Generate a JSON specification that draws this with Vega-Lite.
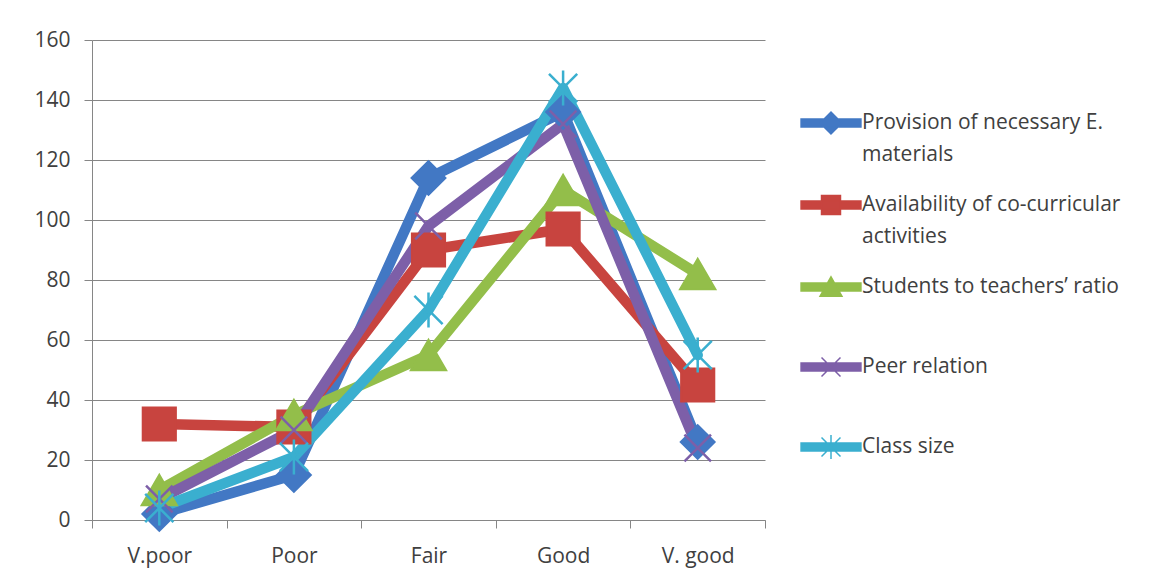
{
  "$schema": "https://vega.github.io/schema/vega-lite/v6.json",
  "width": 673,
  "height": 480,
  "autosize": {"type": "none"},
  "padding": {"left": 92, "top": 40, "right": 406, "bottom": 63},
  "background": "white",
  "config": {"font": "Open Sans", "view": {"stroke": null}},
  "data": {
    "values": [
      {"c": "V.poor", "s": "Provision of necessary E. materials", "v": 2},
      {"c": "Poor", "s": "Provision of necessary E. materials", "v": 15},
      {"c": "Fair", "s": "Provision of necessary E. materials", "v": 114},
      {"c": "Good", "s": "Provision of necessary E. materials", "v": 136},
      {"c": "V. good", "s": "Provision of necessary E. materials", "v": 26},
      {"c": "V.poor", "s": "Availability of  co-curricular activities", "v": 32},
      {"c": "Poor", "s": "Availability of  co-curricular activities", "v": 31},
      {"c": "Fair", "s": "Availability of  co-curricular activities", "v": 90},
      {"c": "Good", "s": "Availability of  co-curricular activities", "v": 97},
      {"c": "V. good", "s": "Availability of  co-curricular activities", "v": 45},
      {"c": "V.poor", "s": "Students to teachers’ ratio", "v": 10},
      {"c": "Poor", "s": "Students to teachers’ ratio", "v": 35},
      {"c": "Fair", "s": "Students to teachers’ ratio", "v": 55},
      {"c": "Good", "s": "Students to teachers’ ratio", "v": 110},
      {"c": "V. good", "s": "Students to teachers’ ratio", "v": 82},
      {"c": "V.poor", "s": "Peer relation", "v": 7},
      {"c": "Poor", "s": "Peer relation", "v": 30},
      {"c": "Fair", "s": "Peer relation", "v": 98},
      {"c": "Good", "s": "Peer relation", "v": 132},
      {"c": "V. good", "s": "Peer relation", "v": 24},
      {"c": "V.poor", "s": "Class size", "v": 4},
      {"c": "Poor", "s": "Class size", "v": 21},
      {"c": "Fair", "s": "Class size", "v": 70},
      {"c": "Good", "s": "Class size", "v": 144},
      {"c": "V. good", "s": "Class size", "v": 55}
    ]
  },
  "encoding": {
    "x": {
      "field": "c",
      "type": "nominal",
      "sort": ["V.poor", "Poor", "Fair", "Good", "V. good"],
      "scale": {"type": "band", "paddingInner": 0, "paddingOuter": 0},
      "axis": {
        "title": null,
        "labelAngle": 0,
        "tickBand": "extent",
        "domainColor": "#868686",
        "tickColor": "#868686",
        "tickSize": 8,
        "labelFontSize": 21,
        "labelPadding": 17,
        "labelColor": "#404040",
        "grid": false
      }
    },
    "y": {
      "field": "v",
      "type": "quantitative",
      "scale": {"domain": [0, 160], "nice": false},
      "axis": {
        "title": null,
        "values": [0, 20, 40, 60, 80, 100, 120, 140, 160],
        "grid": true,
        "gridColor": "#868686",
        "domainColor": "#868686",
        "tickColor": "#868686",
        "tickSize": 8,
        "labelFontSize": 21,
        "labelPadding": 14,
        "labelColor": "#404040"
      }
    },
    "color": {
      "field": "s",
      "type": "nominal",
      "scale": {
        "domain": ["Provision of necessary E. materials", "Availability of  co-curricular activities", "Students to teachers’ ratio", "Peer relation", "Class size"],
        "range": ["#4278C4", "#C8443F", "#93BE4A", "#7D5FA8", "#3AAFCF"]
      },
      "legend": {
        "orient": "none",
        "legendX": 701.5,
        "legendY": 43,
        "title": null,
        "symbolSize": 5329,
        "labelFontSize": 21,
        "labelColor": "#404040",
        "labelOffset": -6.5,
        "rowPadding": 0,
        "clipHeight": 80,
        "padding": 0,
        "labelLimit": 500,
        "symbolStrokeWidth": 1.5,
        "labelExpr": "datum.label === 'Provision of necessary E. materials' ? ['Provision of necessary E.', 'materials'] : datum.label === 'Availability of  co-curricular activities' ? ['Availability of  co-curricular', 'activities'] : datum.label",
        "encode": {
          "symbols": {
            "update": {
              "shape": {"signal": "['M-0.82,-0.11H0.82V0.11H-0.82ZM-0.3,0L0,-0.3L0.3,0L0,0.3Z', 'M-0.82,-0.11H0.82V0.11H-0.82ZM-0.26,-0.26H0.26V0.26H-0.26Z', 'M-0.82,-0.11H0.82V0.11H-0.82ZM0,-0.28L0.3,0.25H-0.3Z', 'M-0.82,-0.11H0.82V0.11H-0.82ZM-0.26,-0.26L0.26,0.26M-0.26,0.26L0.26,-0.26', 'M-0.82,-0.11H0.82V0.11H-0.82ZM-0.26,-0.26L0.26,0.26M-0.26,0.26L0.26,-0.26M0,-0.33V0.33'][datum.index]"},
              "fill": {"scale": "color", "field": "value"},
              "stroke": {"scale": "color", "field": "value"},
              "size": {"value": 5329},
              "opacity": {"value": 1}
            }
          },
          "labels": {"update": {"lineHeight": {"value": 32}}}
        }
      }
    }
  },
  "layer": [
    {"mark": {"type": "line", "strokeWidth": 10.5, "strokeJoin": "round", "strokeCap": "round"}},
    {
      "transform": [{"filter": "datum.s === 'Provision of necessary E. materials'"}],
      "mark": {"type": "point", "filled": true, "shape": "diamond", "size": 1150, "stroke": "#4278C4", "strokeWidth": 2, "opacity": 1}
    },
    {
      "transform": [{"filter": "datum.s === 'Availability of  co-curricular activities'"}],
      "mark": {"type": "point", "filled": true, "shape": "square", "size": 1100, "stroke": "#C8443F", "strokeWidth": 2, "opacity": 1}
    },
    {
      "transform": [{"filter": "datum.s === 'Students to teachers’ ratio'"}],
      "mark": {"type": "point", "filled": true, "shape": "triangle-up", "size": 1250, "stroke": "#93BE4A", "strokeWidth": 2, "opacity": 1}
    },
    {
      "transform": [{"filter": "datum.s === 'Peer relation'"}],
      "mark": {"type": "point", "filled": true, "shape": "M-0.8,-0.8L0.8,0.8M-0.8,0.8L0.8,-0.8", "size": 1100, "stroke": "#7D5FA8", "strokeWidth": 2.5, "opacity": 1}
    },
    {
      "transform": [{"filter": "datum.s === 'Class size'"}],
      "mark": {"type": "point", "filled": true, "shape": "M-0.85,-0.85L0.85,0.85M-0.85,0.85L0.85,-0.85M0,-1.05V1.05", "size": 1100, "stroke": "#3AAFCF", "strokeWidth": 2.5, "opacity": 1}
    }
  ]
}
